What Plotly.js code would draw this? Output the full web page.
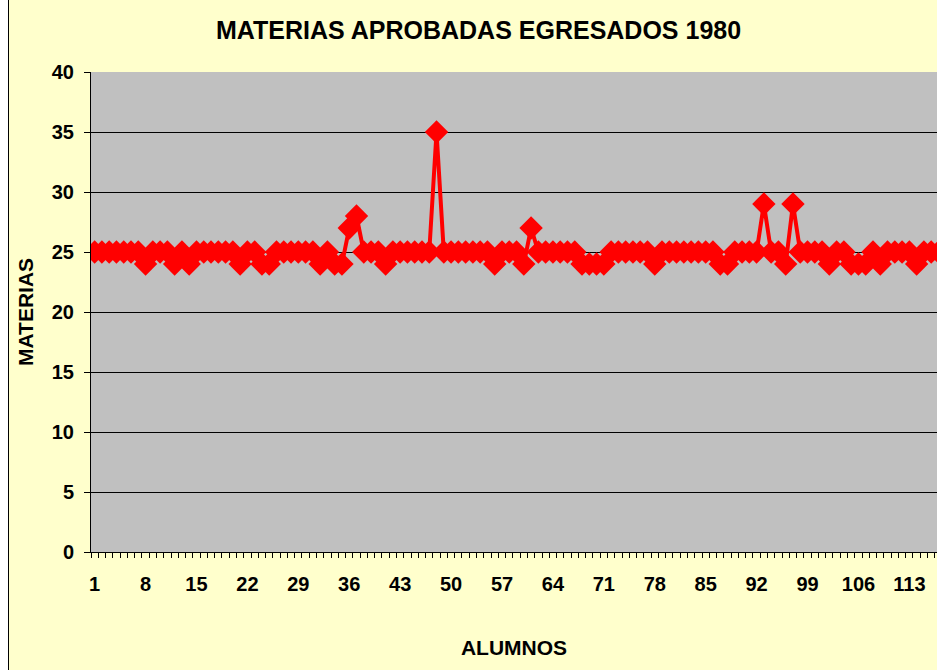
<!DOCTYPE html>
<html>
<head>
<meta charset="utf-8">
<script src="https://cdn.plot.ly/plotly-3.0.1.min.js"></script>
<style>
  html, body { margin: 0; padding: 0; background: #ffffff; overflow: hidden; }
  #frame { position: absolute; left: 8px; top: 0; width: 929px; height: 670px; border-left: 1px solid #000; background: #FFFFCC; }
  #chart { width: 928px; height: 670px; }
</style>
</head>
<body>
<div id="frame"><div id="chart"></div></div>
<script>
const alumnos = [
  1,2,3,4,5,6,7,8,9,10,
  11,12,13,14,15,16,17,18,19,20,
  21,22,23,24,25,26,27,28,29,30,
  31,32,33,34,35,36,37,38,39,40,
  41,42,43,44,45,46,47,48,49,50,
  51,52,53,54,55,56,57,58,59,60,
  61,62,63,64,65,66,67,68,69,70,
  71,72,73,74,75,76,77,78,79,80,
  81,82,83,84,85,86,87,88,89,90,
  91,92,93,94,95,96,97,98,99,100,
  101,102,103,104,105,106,107,108,109,110,
  111,112,113,114,115,116,117
];
const materias = [
  25,25,25,25,25,25,25,24,25,25,
  25,24,25,24,25,25,25,25,25,25,
  24,25,25,24,24,25,25,25,25,25,
  25,24,25,24,24,27,28,25,25,25,
  24,25,25,25,25,25,25,35,25,25,
  25,25,25,25,25,24,25,25,25,24,
  27,25,25,25,25,25,25,24,24,24,
  24,25,25,25,25,25,25,24,25,25,
  25,25,25,25,25,25,24,24,25,25,
  25,25,29,25,25,24,29,25,25,25,
  25,24,25,25,24,24,24,25,24,25,
  25,25,25,24,25,25,25
];
const xTickVals = [1,8,15,22,29,36,43,50,57,64,71,78,85,92,99,106,113];
const xTickText = ["1","8","15","22","29","36","43","50","57","64","71","78","85","92","99","106","113"];
const yTickVals = [0,5,10,15,20,25,30,35,40];

const font = "Liberation Sans, Arial, sans-serif";

const trace = {
  x: alumnos,
  y: materias,
  type: 'scatter',
  mode: 'lines+markers',
  line: { color: '#FF0000', width: 4 },
  marker: { symbol: 'diamond', color: '#FF0000', size: 18 },
  hoverinfo: 'x+y',
  cliponaxis: true
};

const layout = {
  width: 928,
  height: 670,
  paper_bgcolor: '#FFFFCC',
  plot_bgcolor: '#C0C0C0',
  margin: { l: 82, r: 0, t: 72, b: 118 },
  showlegend: false,
  title: {
    text: 'MATERIAS APROBADAS EGRESADOS 1980',
    font: { family: font, size: 25, color: '#000', weight: 'bold' },
    x: 0.506, xanchor: 'center', y: 0.955, yanchor: 'middle'
  },
  xaxis: {
    type: 'linear',
    range: [0.5, 116.8],
    tickmode: 'array',
    tickvals: xTickVals,
    ticktext: xTickText,
    ticks: '',
    ticklabelstandoff: 14,
    tickfont: { family: font, size: 20, color: '#000', weight: 'bold' },
    showgrid: false,
    zeroline: false,
    showline: true,
    linecolor: '#000',
    linewidth: 1,
    minor: { tick0: 0.5, dtick: 1, ticks: 'outside', ticklen: 5, tickcolor: '#000', showgrid: false },
    title: {
      text: 'ALUMNOS',
      font: { family: font, size: 21, color: '#000', weight: 'bold' },
      standoff: 46
    },
    automargin: false,
    fixedrange: true
  },
  yaxis: {
    range: [0, 40],
    tickmode: 'array',
    tickvals: yTickVals,
    ticks: 'outside',
    ticklen: 6,
    tickcolor: '#000',
    ticklabelstandoff: 6,
    tickfont: { family: font, size: 20, color: '#000', weight: 'bold' },
    showgrid: true,
    gridcolor: '#000',
    gridwidth: 1,
    zeroline: false,
    showline: true,
    linecolor: '#000',
    linewidth: 1,
    title: {
      text: 'MATERIAS',
      font: { family: font, size: 21, color: '#000', weight: 'bold' },
      standoff: 12
    },
    automargin: false,
    fixedrange: true
  }
};

Plotly.newPlot('chart', [trace], layout, { displayModeBar: false, staticPlot: true });
</script>
</body>
</html>
